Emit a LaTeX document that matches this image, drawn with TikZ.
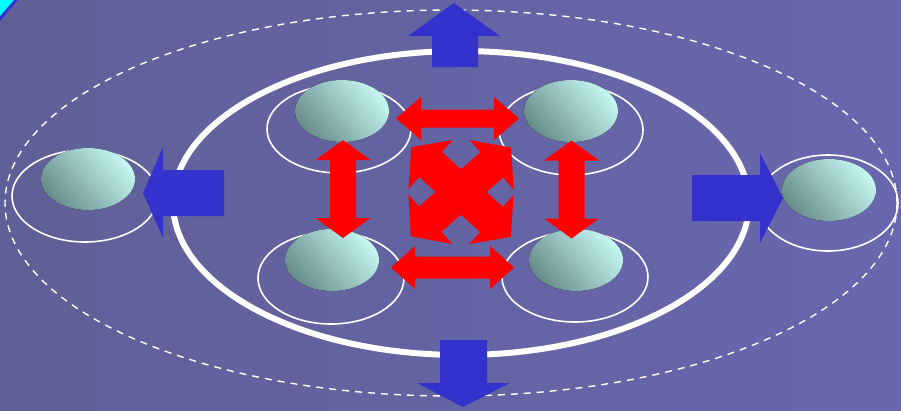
\documentclass[tikz,border=0pt]{standalone}
\usetikzlibrary{shadings}

\definecolor{bgleft}{RGB}{96,96,152}
\definecolor{bgright}{RGB}{105,103,174}
\definecolor{ballhi}{RGB}{196,246,242}
\definecolor{balllo}{RGB}{104,142,140}
\definecolor{arrowblue}{RGB}{52,50,204}
\definecolor{cornercyan}{RGB}{0,255,255}

\tikzset{
  ring/.style={draw=white, line width=1.6pt},
  ball/.style={shading=axis, top color=ballhi, bottom color=balllo, shading angle=-50},
  bluearrow/.style={fill=arrowblue},
  redarrow/.style={fill=red},
}

% double block arrow: centre, angle, half length, head length, head half width, shaft half width
\newcommand{\dblarrow}[6]{%
  \fill[redarrow, shift={#1}, rotate=#2]
    (-#3,0) -- (-#3+#4,#5) -- (-#3+#4,#6) -- (#3-#4,#6) -- (#3-#4,#5) -- (#3,0)
    -- (#3-#4,-#5) -- (#3-#4,-#6) -- (-#3+#4,-#6) -- (-#3+#4,-#5) -- cycle;}

\begin{document}
\begin{tikzpicture}[x=1pt, y=-1pt]
    % Background
    \shade[left color=bgleft, right color=bgright] (0,0) rectangle (901,410);
    \useasboundingbox (0,0) rectangle (901,410);

    % Corner mark
    \fill[arrowblue] (0,0) -- (18,0) -- (0,21) -- cycle;
    \fill[cornercyan] (0,0) -- (14,0) -- (0,16) -- cycle;

    % Outer dashed boundary
    \draw[white, line width=1.4pt, dash pattern=on 7pt off 6pt] (451,203) ellipse [x radius=446, y radius=193];

    % Inner boundary
    \draw[white, line width=6pt] (461,203) ellipse [x radius=288, y radius=152];

    % Rings round the members
    \foreach \cx/\cy/\rx/\ry in {339/129/72/44, 571/130/72/45, 331/278/73/46,
                                 575/277/73/45, 85/196/73/46, 828/203/70/48}
        \draw[ring] (\cx,\cy) ellipse [x radius=\rx, y radius=\ry];

    % Members
    \foreach \cx/\cy in {342/111, 571/111, 332/260, 576/260, 88/179, 829/190}
        \fill[ball] (\cx,\cy) ellipse [x radius=47, y radius=31];

    % Blue arrows (out of the boundary)
    \fill[bluearrow] (432,67) -- (432,36) -- (408,36) -- (454,3) -- (500,36) -- (478,36) -- (478,67) -- cycle;
    \fill[bluearrow] (440,340) -- (487,340) -- (487,383) -- (510,383) -- (463,407) -- (417,383) -- (440,383) -- cycle;
    \fill[bluearrow] (224,170) -- (163,170) -- (163,147) -- (143,193) -- (163,238) -- (163,216) -- (224,216) -- cycle;
    \fill[bluearrow] (692,175) -- (760,175) -- (760,153) -- (783,198) -- (760,243) -- (760,221) -- (692,221) -- cycle;

    % Red arrows (between members)
    \dblarrow{(457.5,118.5)}{0}{61.5}{25}{21.5}{9}
    \dblarrow{(452.5,267.5)}{0}{61.5}{24}{21.5}{11}
    \dblarrow{(343,189)}{90}{49}{20}{27.5}{13}
    \dblarrow{(571.5,189.5)}{90}{49}{20}{27.5}{13}

    % Crossed arrows in the middle
    \dblarrow{(461,192)}{41.5}{67}{26}{33}{17}
    \dblarrow{(461,192)}{-42}{67}{26}{33}{17}
\end{tikzpicture}
\end{document}
